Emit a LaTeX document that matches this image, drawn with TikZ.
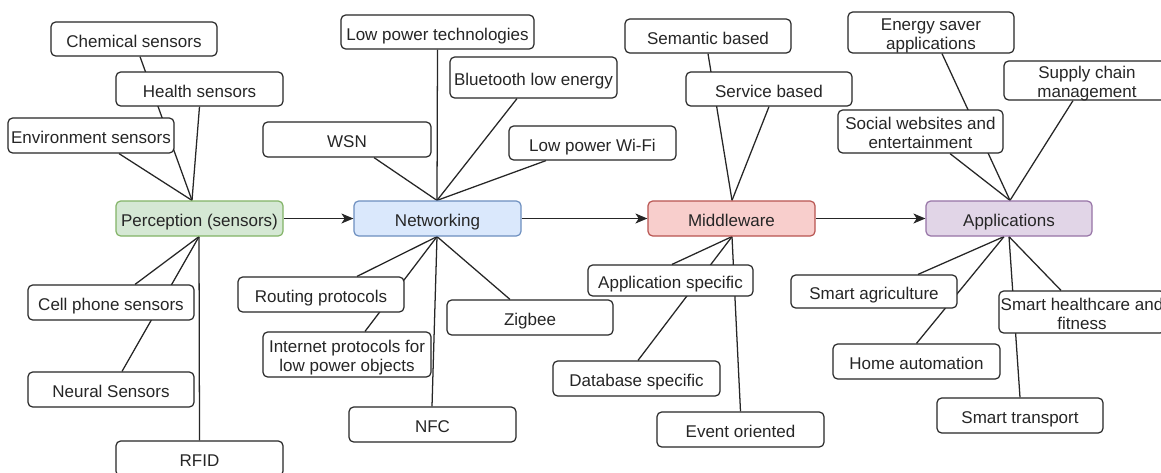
\documentclass[tikz,border=0pt]{standalone}
\usepackage{fontspec}
\setmainfont{Liberation Sans}
\usetikzlibrary{calc,arrows.meta,backgrounds}
\definecolor{pfill}{HTML}{D5E8D4}\definecolor{pdraw}{HTML}{82B366}
\definecolor{nfill}{HTML}{DAE8FC}\definecolor{ndraw}{HTML}{6C8EBF}
\definecolor{mfill}{HTML}{F8CECC}\definecolor{mdraw}{HTML}{B85450}
\definecolor{afill}{HTML}{E1D5E7}\definecolor{adraw}{HTML}{9673A6}
\definecolor{ink}{HTML}{262626}
\begin{document}
\begin{tikzpicture}[x=0.75pt,y=-0.75pt,
  box/.style={draw=ink, line width=0.9pt, rounded corners=3.5pt, fill=white, align=center,
    inner sep=0pt, text=ink, text height=12pt, text depth=0pt,
    font=\fontsize{12.75}{14.5}\selectfont},
  twoline/.style={text height=26pt},
  sz/.style 2 args={minimum width={#1*0.75pt}, minimum height={#2*0.75pt}},
  perc/.style={box, fill=pfill, draw=pdraw},
  netw/.style={box, fill=nfill, draw=ndraw},
  midw/.style={box, fill=mfill, draw=mdraw},
  appl/.style={box, fill=afill, draw=adraw},
  link/.style={draw=ink, line width=0.95pt},
  flow/.style={link, -{Stealth[length=9pt,width=7.5pt,inset=2.5pt]}}]
\useasboundingbox (0,0) rectangle (1161,472);
\clip (0,0) rectangle (1161,472);

% main nodes
\node[perc, sz={167}{35}] (perc) at (199.5,218.5) {Perception (sensors)};
\node[netw, sz={167}{35}] (net) at (437.5,218.5) {Networking};
\node[midw, sz={167}{35}] (mid) at (731.5,218.5) {Middleware};
\node[appl, sz={166}{35}] (app) at (1009,218.5) {Applications};

% perception
\node[box, sz={166}{34}] (chem) at (134,39) {Chemical sensors};
\node[box, sz={167}{34}] (health) at (199.5,89) {Health sensors};
\node[box, sz={166}{35}] (env) at (91,135.5) {Environment sensors};
\node[box, sz={166}{35}] (cell) at (111,302.5) {Cell phone sensors};
\node[box, sz={166}{35}] (neural) at (111,389.5) {Neural Sensors};
\node[box, sz={167}{35}] (rfid) at (199.5,458.5) {RFID};

% networking
\node[box, sz={193}{34}] (lpt) at (437.5,32) {Low power technologies};
\node[box, sz={167}{41}] (ble) at (533.5,77.5) {Bluetooth low energy};
\node[box, sz={168}{35}] (wsn) at (347,139.5) {WSN};
\node[box, sz={167}{34}] (wifi) at (592.5,143) {Low power Wi-Fi};
\node[box, sz={166}{35}] (routing) at (321,294.5) {Routing protocols};
\node[box, twoline, sz={168}{45}] (inet) at (347,354.5) {Internet protocols for\\low power objects};
\node[box, sz={166}{35}] (zigbee) at (530,317.5) {Zigbee};
\node[box, sz={167}{35}] (nfc) at (432.5,424.5) {NFC};

% middleware
\node[box, sz={166}{34}] (sem) at (708,36) {Semantic based};
\node[box, sz={166}{34}] (serv) at (769,89) {Service based};
\node[box, sz={165}{31}] (appspec) at (670.5,280.5) {Application specific};
\node[box, sz={167}{35}] (db) at (636.5,378.5) {Database specific};
\node[box, sz={167}{35}] (event) at (740.5,429.5) {Event oriented};

% applications
\node[box, twoline, sz={166}{41}] (energy) at (931,32.5) {Energy saver\\applications};
\node[box, twoline, sz={166}{39}] (supply) at (1087,80.5) {Supply chain\\management};
\node[box, twoline, sz={165}{43}] (social) at (920.5,131.5) {Social websites and\\entertainment};
\node[box, sz={166}{33}] (agri) at (874,291.5) {Smart agriculture};
\node[box, sz={167}{35}] (home) at (916.5,361.5) {Home automation};
\node[box, twoline, sz={166}{42}] (health2) at (1082,312) {Smart healthcare and\\fitness};
\node[box, sz={166}{35}] (transport) at (1020,415.5) {Smart transport};

\begin{pgfonlayer}{background}
\fill[white] (0,0) rectangle (1161,472);
% perception links
\coordinate (pt) at ($(perc.north)+(-7.5,0)$);
\coordinate (pb) at ($(perc.south)+(-0.5,0)$);
\draw[link] ($(chem.south)+(6,0)$) -- (pt);
\draw[link] (health.south) -- (pt);
\draw[link] ($(env.south)+(28,0)$) -- (pt);
\draw[link] (pb) -- ($(cell.north)+(24,0)$);
\draw[link] (pb) -- ($(neural.north)+(11,0)$);
\draw[link] (pb) -- (rfid.north);
% networking links
\coordinate (nt) at ($(net.north)+(-0.5,0)$);
\coordinate (nb) at ($(net.south)+(-0.5,0)$);
\draw[link] (lpt.south) -- (nt);
\draw[link] ($(ble.south)+(-16.5,0)$) -- (nt);
\draw[link] ($(wsn.south)+(27,0)$) -- (nt);
\draw[link] ($(wifi.south)+(-46.5,0)$) -- (nt);
\draw[link] (nb) -- ($(routing.north)+(36,0)$);
\draw[link] (nb) -- ($(inet.north)+(18,0)$);
\draw[link] (nb) -- ($(zigbee.north)+(-20,0)$);
\draw[link] (nb) -- ($(nfc.north)+(-0.5,0)$);
% middleware links
\coordinate (mt) at ($(mid.north)+(0.5,0)$);
\coordinate (mb) at ($(mid.south)+(0.5,0)$);
\draw[link] (sem.south) -- (mt);
\draw[link] (serv.south) -- (mt);
\draw[link] (mb) -- ($(appspec.north)+(1.5,0)$);
\draw[link] (mb) -- ($(db.north)+(1.5,0)$);
\draw[link] (mb) -- (event.north);
% applications links
\coordinate (at) at ($(app.north)+(1,0)$);
\coordinate (abl) at ($(app.south)+(-5,0)$);
\coordinate (abr) at (app.south);
\draw[link] ($(energy.south)+(11,0)$) -- (at);
\draw[link] ($(social.south)+(29.5,0)$) -- (at);
\draw[link] ($(supply.south)+(-14,0)$) -- (at);
\draw[link] (abl) -- ($(agri.north)+(44,0)$);
\draw[link] (abl) -- (home.north);
\draw[link] (abr) -- ($(health2.north)+(-21,0)$);
\draw[link] (abr) -- (transport.north);
\end{pgfonlayer}

% flow arrows
\draw[flow] (perc.east) -- (net.west);
\draw[flow] (net.east) -- (mid.west);
\draw[flow] (mid.east) -- (app.west);
\end{tikzpicture}
\end{document}
